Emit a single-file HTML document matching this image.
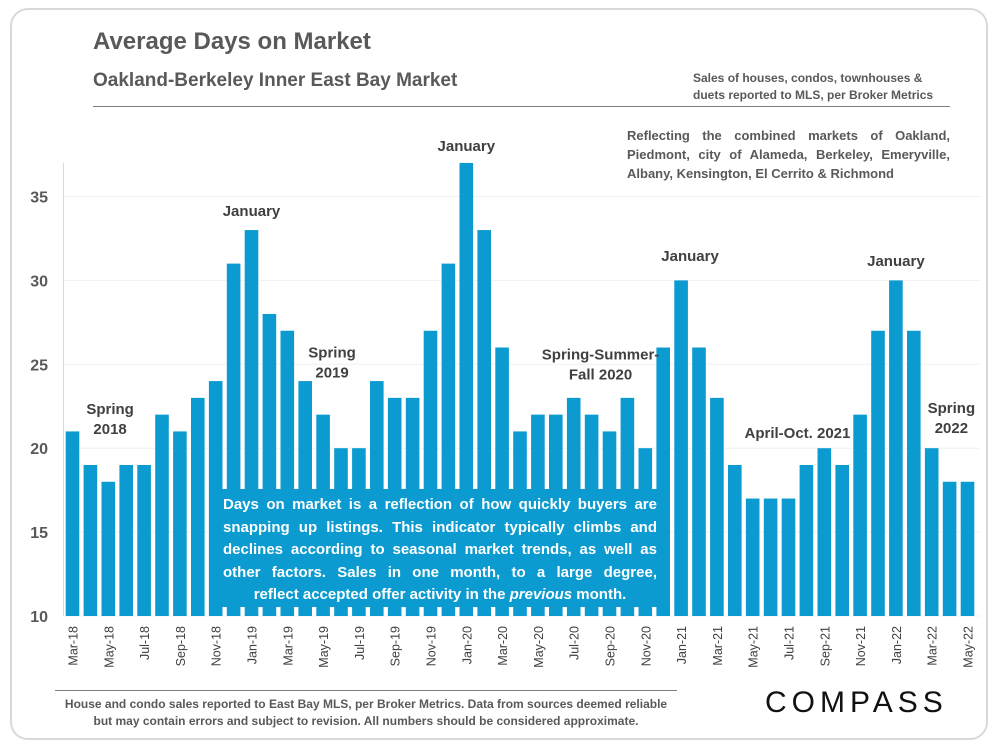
<!DOCTYPE html>
<html><head><meta charset="utf-8"><style>
body{margin:0;width:1000px;height:750px;background:#fff;font-family:"Liberation Sans",sans-serif;position:relative;overflow:hidden}
.card{position:absolute;left:10px;top:8px;width:978px;height:732px;border:2px solid #d9d9d9;border-radius:18px;box-sizing:border-box}
.t{position:absolute;color:#595959;font-weight:bold}
.ib div{text-align:justify;text-align-last:justify;white-space:nowrap}
</style></head><body>
<div class="card"></div>
<div class="t" style="left:93px;top:28px;font-size:24px">Average Days on Market</div>
<div class="t" style="left:93px;top:70px;font-size:19px">Oakland-Berkeley Inner East Bay Market</div>
<div class="t" style="left:693px;top:70px;font-size:12px;line-height:17px">Sales of houses, condos, townhouses &amp;<br>duets reported to MLS, per Broker Metrics</div>
<div style="position:absolute;left:93px;top:106px;width:857px;height:1px;background:#7f7f7f"></div>
<div class="t" style="left:627px;top:126px;width:323px;font-size:13px;line-height:19px;text-align:justify">Reflecting the combined markets of Oakland, Piedmont, city of Alameda, Berkeley, Emeryville, Albany, Kensington, El Cerrito &amp; Richmond</div>
<svg id="chart" width="1000" height="750" style="position:absolute;left:0;top:0"></svg>
<div class="ib" style="position:absolute;left:214px;top:489px;width:452px;height:118px;background:#0b9bd0;color:#fff;font-weight:bold;font-size:15px;line-height:22.5px;padding:5px 9px;box-sizing:border-box">
<div>Days on market is a reflection of how quickly buyers are</div>
<div>snapping up listings. This indicator typically climbs and</div>
<div>declines according to seasonal market trends, as well as</div>
<div>other factors. Sales in one month, to a large degree,</div>
<div style="text-align:center;text-align-last:center">reflect accepted offer activity in the <i>previous</i> month.</div>
</div>
<div style="position:absolute;left:55px;top:690px;width:622px;height:1px;background:#7f7f7f"></div>
<div class="t" style="left:55px;top:696px;width:622px;font-size:12px;line-height:17px;text-align:center">House and condo sales reported to East Bay MLS, per Broker Metrics. Data from sources deemed reliable but may contain errors and subject to revision. All numbers should be considered approximate.</div>
<div style="position:absolute;left:765px;top:686px;font-size:30px;letter-spacing:5px;color:#111;font-family:'Liberation Sans',sans-serif">COMPASS</div>
<script>
const months=["Mar-18","Apr-18","May-18","Jun-18","Jul-18","Aug-18","Sep-18","Oct-18","Nov-18","Dec-18","Jan-19","Feb-19","Mar-19","Apr-19","May-19","Jun-19","Jul-19","Aug-19","Sep-19","Oct-19","Nov-19","Dec-19","Jan-20","Feb-20","Mar-20","Apr-20","May-20","Jun-20","Jul-20","Aug-20","Sep-20","Oct-20","Nov-20","Dec-20","Jan-21","Feb-21","Mar-21","Apr-21","May-21","Jun-21","Jul-21","Aug-21","Sep-21","Oct-21","Nov-21","Dec-21","Jan-22","Feb-22","Mar-22","Apr-22","May-22"];
const days=[21,19,18,19,19,22,21,23,24,31,33,28,27,24,22,20,20,24,23,23,27,31,37,33,26,21,22,22,23,22,21,23,20,26,30,26,23,19,17,17,17,19,20,19,22,27,30,27,20,18,18];
const yTicks=[10,15,20,25,30,35];
const notes=[["Spring","2018",2.1,22.05],["January","",10,33.85],["Spring","2019",14.5,25.4],["January","",22,37.7],["Spring-Summer-","Fall 2020",29.5,25.3],["January","",34.5,31.15],["April-Oct.  2021","",40.5,20.6],["January","",46,30.85],["Spring","2022",49.1,22.1]];
const svg=document.getElementById('chart');const NS="http://www.w3.org/2000/svg";
const y=v=>616-(v-10)*16.78, x=i=>72.5+i*17.9;
function mk(t,a){const e=document.createElementNS(NS,t);for(const k in a)e.setAttribute(k,a[k]);svg.appendChild(e);return e;}
yTicks.forEach(v=>{
 const g=mk('line',{x1:63,x2:980,y1:y(v),y2:y(v),stroke:'#f0f0f0'});
 
 
 const t=mk('text',{x:48,y:y(v)+6,'text-anchor':'end','font-size':16,'font-weight':'bold',fill:'#595959','font-family':'Liberation Sans'});t.textContent=v;
 
 
});
const ax=mk('line',{x1:63.5,x2:63.5,y1:163,y2:616,stroke:'#d9d9d9'});


days.forEach((d,i)=>{
 const r=mk('rect',{x:x(i)-6.8,y:y(d),width:13.6,height:616-y(d),fill:'#0b9bd0'});
 
 
 if(i%2===0){const t=mk('text',{transform:`translate(${x(i)+5},626) rotate(-90)`,'text-anchor':'end','font-size':12.5,fill:'#404040','font-family':'Liberation Sans'});t.textContent=months[i];
 
 }
});
notes.forEach(n=>{
 const t=mk('text',{x:x(n[2]),y:y(n[3]),'text-anchor':'middle','font-size':15,'font-weight':'bold',fill:'#404040','font-family':'Liberation Sans'});
 
 
 const a=document.createElementNS(NS,'tspan');a.setAttribute('x',x(n[2]));a.textContent=n[0];t.appendChild(a);
 if(n[1]){const b=document.createElementNS(NS,'tspan');b.setAttribute('x',x(n[2]));b.setAttribute('dy',20);b.textContent=n[1];t.appendChild(b);}
});
</script>
</body></html>
